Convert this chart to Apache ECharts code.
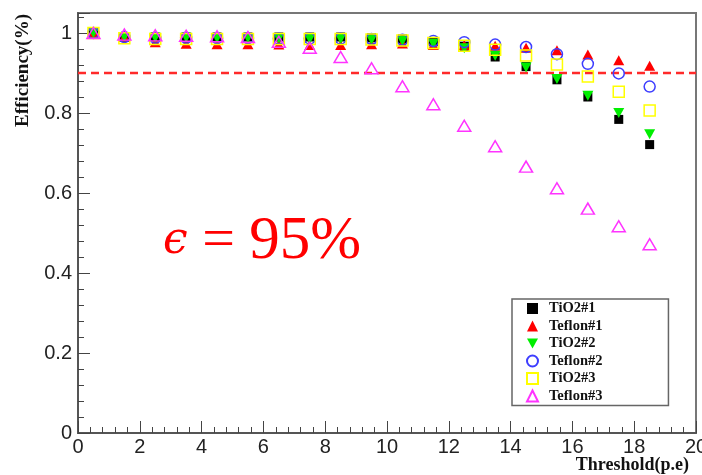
<!DOCTYPE html>
<html>
<head>
<meta charset="utf-8">
<script src="https://cdn.jsdelivr.net/npm/echarts@6/dist/echarts.min.js"></script>
<style>html,body{margin:0;padding:0;background:#fff}#c{width:702px;height:475px}</style>
</head>
<body>
<div id="c"></div>
<script>
// ---- data ----
const thresholds = [0.5,1.5,2.5,3.5,4.5,5.5,6.5,7.5,8.5,9.5,10.5,11.5,12.5,13.5,14.5,15.5,16.5,17.5,18.5];
const tio2_1   = [1.000,0.991,0.990,0.990,0.990,0.990,0.990,0.990,0.990,0.988,0.985,0.978,0.967,0.940,0.916,0.883,0.840,0.784,0.721];
const teflon_1 = [1.000,0.990,0.977,0.973,0.972,0.972,0.971,0.970,0.970,0.972,0.974,0.970,0.970,0.968,0.963,0.957,0.946,0.932,0.918];
const tio2_2   = [1.000,0.990,0.988,0.988,0.987,0.987,0.986,0.985,0.985,0.983,0.980,0.973,0.962,0.943,0.914,0.885,0.843,0.800,0.747];
const teflon_2 = [1.000,0.990,0.988,0.988,0.987,0.987,0.986,0.986,0.986,0.985,0.983,0.980,0.977,0.971,0.965,0.947,0.923,0.899,0.866];
const tio2_3   = [1.000,0.987,0.985,0.985,0.985,0.985,0.985,0.985,0.985,0.984,0.981,0.975,0.968,0.958,0.944,0.921,0.891,0.853,0.806];
const teflon_3 = [1.000,0.996,0.994,0.993,0.992,0.990,0.978,0.963,0.940,0.912,0.867,0.822,0.768,0.717,0.666,0.612,0.561,0.517,0.472];
const seriesNames = ['TiO2#1','Teflon#1','TiO2#2','Teflon#2','TiO2#3','Teflon#3'];
const cutLineX = [0, 20];
const cutLineY = [0.9, 0.9];
const xTicks = [0,2,4,6,8,10,12,14,16,18,20];
const yTicks = [0,0.2,0.4,0.6,0.8,1];
const xTitle = 'Threshold(p.e)';
const yTitle = 'Efficiency(%)';
const annotationSymbol = 'ϵ';
const annotationText = '95%';

function pts(ys){ return thresholds.map((x,i)=>[x, ys[i]]); }

const labelFont = "'Liberation Sans Narrow','Liberation Sans',Arial,sans-serif";
const titleFont = "'Liberation Serif','Times New Roman',serif";
const downTriangle = 'path://M0,0 L10,0 L5,9 Z';

const chart = echarts.init(document.getElementById('c'), null, {renderer:'canvas'});
const option = {
  animation: false,
  backgroundColor: '#fff',
  grid: { left: 78, right: 6, top: 13, bottom: 42, containLabel: false, outerBoundsMode: 'none',
          show: true, borderColor: '#777', borderWidth: 2, backgroundColor: 'transparent' },
  xAxis: {
    type: 'value', min: xTicks[0], max: xTicks[xTicks.length-1], interval: 2,
    axisLine: { show: true, onZero: false, lineStyle: { color: '#555', width: 2 } },
    axisTick: { show: true, inside: true, length: 12, lineStyle: { color: '#444', width: 1 } },
    minorTick: { show: true, splitNumber: 5, length: 6, lineStyle: { color: '#444', width: 1 } },
    splitLine: { show: false },
    axisLabel: { color: '#222', fontFamily: labelFont, fontSize: 20, margin: 4, hideOverlap: false }
  },
  yAxis: {
    type: 'value', min: 0, max: 1.05, interval: 0.2,
    axisLine: { show: true, onZero: false, lineStyle: { color: '#555', width: 2 } },
    axisTick: { show: true, inside: true, length: 12, lineStyle: { color: '#444', width: 1 } },
    minorTick: { show: true, splitNumber: 5, length: 6, lineStyle: { color: '#444', width: 1 } },
    splitLine: { show: false },
    axisLabel: { color: '#222', fontFamily: labelFont, fontSize: 20, margin: 6, showMaxLabel: false,
      formatter: v => (yTicks.some(t => Math.abs(t - v) < 1e-9) ? String(+v.toFixed(2)) : '') }
  },
  legend: {
    data: seriesNames,
    orient: 'vertical',
    left: 512, top: 299,
    padding: [2, 66, 2, 14],
    itemWidth: 11, itemHeight: 11, itemGap: 2.5,
    borderColor: '#666', borderWidth: 1.5, backgroundColor: '#fff',
    textStyle: { fontFamily: titleFont, fontWeight: 'bold', fontSize: 14.5, color: '#111', lineHeight: 13, padding: [0,0,0,6] }
  },
  graphic: [
    { type: 'text', left: 163, top: 211, z: 100,
      style: {
        text: '{e|' + annotationSymbol + '}{s| = }{n|' + annotationText + '}',
        rich: {
          e: { fill: '#ff0000', font: "italic 44px 'DejaVu Serif',serif" },
          s: { fill: '#ff0000', font: "58px 'Liberation Serif',serif" },
          n: { fill: '#ff0000', font: "61px 'Liberation Serif',serif" }
        }
      } },
    { type: 'text', x: 689, y: 465, z: 100,
      style: { text: xTitle, fill: '#111', align: 'right', verticalAlign: 'middle', font: "bold 18px 'Liberation Serif',serif" } },
    { type: 'text', x: 23, y: 14, rotation: Math.PI/2, z: 100,
      style: { text: yTitle, fill: '#111', align: 'right', verticalAlign: 'middle', font: "bold 19px 'Liberation Serif',serif" } }
  ],
  series: [
    { name: 'cut', type: 'line', data: cutLineX.map((x,i)=>[x, cutLineY[i]]), symbol: 'none', silent: true, z: 1,
      lineStyle: { color: '#ff2a2a', width: 2.5, type: [8, 5] } },
    { name: seriesNames[0], type: 'scatter', data: pts(tio2_1), symbol: 'rect', symbolSize: 9, z: 2,
      itemStyle: { color: '#000', opacity: 1 } },
    { name: seriesNames[1], type: 'scatter', data: pts(teflon_1), symbol: 'triangle', symbolSize: [11, 10], z: 3,
      itemStyle: { color: '#ff0000', opacity: 1 } },
    { name: seriesNames[2], type: 'scatter', data: pts(tio2_2), symbol: downTriangle, symbolSize: [11, 10], z: 4,
      itemStyle: { color: '#00ee00', opacity: 1 } },
    { name: seriesNames[3], type: 'scatter', data: pts(teflon_2), symbol: 'circle', symbolSize: 11, z: 5,
      itemStyle: { color: 'rgba(255,255,255,0)', borderColor: '#3d3dff', borderWidth: 1.5, opacity: 1 } },
    { name: seriesNames[4], type: 'scatter', data: pts(tio2_3), symbol: 'rect', symbolSize: 11, z: 6,
      itemStyle: { color: 'rgba(255,255,255,0)', borderColor: '#ffff00', borderWidth: 1.5, opacity: 1 } },
    { name: seriesNames[5], type: 'scatter', data: pts(teflon_3), symbol: 'triangle', symbolSize: [13, 11], z: 7,
      itemStyle: { color: 'rgba(255,255,255,0)', borderColor: '#ff33ff', borderWidth: 1.5, opacity: 1 } }
  ]
};
chart.setOption(option);
</script>
</body>
</html>
